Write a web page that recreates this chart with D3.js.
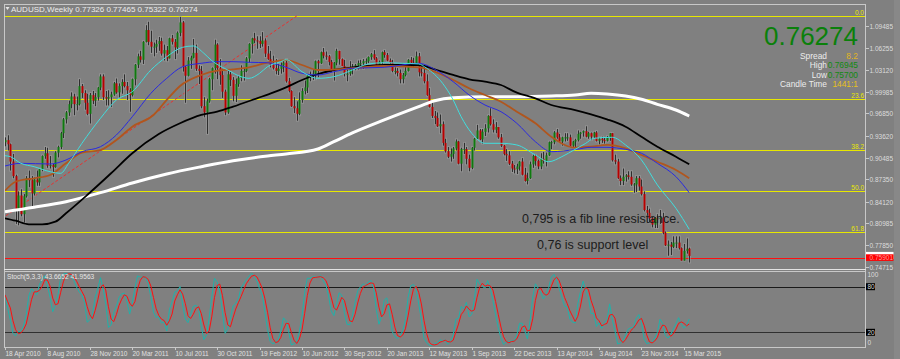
<!DOCTYPE html>
<html><head><meta charset="utf-8">
<script src="https://cdn.jsdelivr.net/npm/d3@7"></script>
<style>
html,body{margin:0;padding:0;background:#808080;overflow:hidden;}
svg{display:block;font-family:"Liberation Sans",Arial,sans-serif;}
</style></head><body>
<svg id="chart" width="900" height="359"></svg>
<script>
// ---------------- DATA ----------------
const symbolTitle = "AUDUSD,Weekly";
const headerValues = ["0.77326", "0.77465", "0.75322", "0.76274"];
const firstBarDate = "2010-04-18";

const closes = [
0.9300,0.9240,0.8990,0.8780,0.8300,0.8500,0.8230,0.8490,0.8750,0.8720,
0.8530,0.8730,0.8690,0.8880,0.9070,0.9110,0.8930,0.8940,0.8910,0.9120,
0.9200,0.9400,0.9600,0.9700,0.9820,0.9930,0.9820,0.9820,1.0080,0.9980,
0.9840,0.9680,0.9950,0.9870,0.9920,1.0060,1.0220,
0.9920,0.9900,0.9920,0.9960,1.0120,0.9990,1.0080,1.0140,1.0080,1.0020,
0.9950,1.0180,1.0390,1.0510,1.0460,1.0720,1.0890,1.0720,1.0650,1.0650,
1.0690,1.0730,1.0550,1.0600,1.0480,1.0770,1.0720,1.0640,1.0850,1.1000,
1.0360,1.0230,1.0450,1.0490,1.0560,1.0330,1.0300,0.9790,0.9700,0.9860,
1.0180,1.0340,1.0680,1.0340,1.0240,1.0000,0.9700,1.0250,1.0170,0.9940,
1.0110,1.0200,
1.0300,1.0300,1.0480,1.0690,1.0770,1.0740,1.0730,1.0690,1.0740,1.0550,
1.0470,1.0390,1.0340,1.0300,1.0330,1.0380,1.0420,1.0150,1.0010,0.9790,
0.9760,0.9680,0.9880,1.0010,1.0060,1.0230,1.0230,1.0260,1.0440,1.0410,
1.0570,1.0520,1.0510,1.0430,1.0320,1.0420,1.0590,1.0470,1.0370,1.0260,
1.0260,1.0350,1.0360,1.0380,1.0410,1.0410,1.0440,1.0440,1.0500,1.0540,
1.0480,1.0370,1.0430,
1.0570,1.0530,1.0450,1.0420,1.0300,1.0300,1.0270,1.0180,1.0240,1.0300,
1.0460,1.0420,1.0400,1.0510,1.0280,1.0270,1.0150,0.9950,0.9780,0.9650,
0.9620,0.9500,0.9530,0.9260,0.9140,0.9060,0.9100,0.9180,0.9280,0.8960,
0.9170,0.9170,0.9030,0.8900,0.9190,0.9320,0.9440,0.9310,0.9420,0.9470,
0.9650,0.9530,0.9450,0.9490,0.9340,0.9220,0.9100,0.9080,0.8960,0.8890,
0.8880,0.8920,
0.8990,0.8800,0.8710,0.8750,0.8950,0.9070,0.9000,0.8920,0.9030,0.9000,
0.9080,0.9270,0.9270,0.9410,0.9340,0.9280,0.9340,0.9340,0.9340,0.9220,
0.9280,0.9300,0.9390,0.9410,0.9430,0.9350,0.9400,0.9350,0.9410,0.9290,
0.9320,0.9300,0.9290,0.9340,0.9400,0.9010,0.8990,0.8750,0.8710,0.8770,
0.8790,0.8770,0.8660,0.8660,0.8750,0.8630,0.8520,0.8290,0.8250,0.8170,
0.8080,0.8170,
0.8160,0.8180,0.7960,0.7780,0.7790,0.7760,0.7820,0.7820,0.7740,0.7560,
0.7700,0.7730,0.76274];

const opens = [
0.9270,0.9300,0.9240,0.8990,0.8780,0.8300,0.8500,0.8230,0.8490,0.8750,
0.8720,0.8530,0.8730,0.8690,0.8880,0.9070,0.9110,0.8930,0.8940,0.8910,
0.9120,0.9200,0.9400,0.9600,0.9700,0.9820,0.9930,0.9820,0.9820,1.0080,
0.9980,0.9840,0.9680,0.9950,0.9870,0.9920,1.0060,
1.0220,0.9920,0.9900,0.9920,0.9960,1.0120,0.9990,1.0080,1.0140,1.0080,
1.0020,0.9950,1.0180,1.0390,1.0510,1.0460,1.0720,1.0890,1.0720,1.0650,
1.0650,1.0690,1.0730,1.0550,1.0600,1.0480,1.0770,1.0720,1.0640,1.0850,
1.1000,1.0360,1.0230,1.0450,1.0490,1.0560,1.0330,1.0300,0.9790,0.9700,
0.9860,1.0180,1.0340,1.0680,1.0340,1.0240,1.0000,0.9700,1.0250,1.0170,
0.9940,1.0110,
1.0200,1.0300,1.0300,1.0480,1.0690,1.0770,1.0740,1.0730,1.0690,1.0740,
1.0550,1.0470,1.0390,1.0340,1.0300,1.0330,1.0380,1.0420,1.0150,1.0010,
0.9790,0.9760,0.9680,0.9880,1.0010,1.0060,1.0230,1.0230,1.0260,1.0440,
1.0410,1.0570,1.0520,1.0510,1.0430,1.0320,1.0420,1.0590,1.0470,1.0370,
1.0260,1.0260,1.0350,1.0360,1.0380,1.0410,1.0410,1.0440,1.0440,1.0500,
1.0540,1.0480,1.0370,
1.0430,1.0570,1.0530,1.0450,1.0420,1.0300,1.0300,1.0270,1.0180,1.0240,
1.0300,1.0460,1.0420,1.0400,1.0510,1.0280,1.0270,1.0150,0.9950,0.9780,
0.9650,0.9620,0.9500,0.9530,0.9260,0.9140,0.9060,0.9100,0.9180,0.9280,
0.8960,0.9170,0.9170,0.9030,0.8900,0.9190,0.9320,0.9440,0.9310,0.9420,
0.9470,0.9650,0.9530,0.9450,0.9490,0.9340,0.9220,0.9100,0.9080,0.8960,
0.8890,0.8880,
0.8920,0.8990,0.8800,0.8710,0.8750,0.8950,0.9070,0.9000,0.8920,0.9030,
0.9000,0.9080,0.9270,0.9270,0.9410,0.9340,0.9280,0.9340,0.9340,0.9340,
0.9220,0.9280,0.9300,0.9390,0.9410,0.9430,0.9350,0.9400,0.9350,0.9410,
0.9290,0.9320,0.9300,0.9290,0.9340,0.9400,0.9010,0.8990,0.8750,0.8710,
0.8770,0.8790,0.8770,0.8660,0.8660,0.8750,0.8630,0.8520,0.8290,0.8250,
0.8170,0.8080,
0.8170,0.8160,0.8180,0.7960,0.7780,0.7790,0.7760,0.7820,0.7820,0.7740,
0.7560,0.7700,0.77326];

const highs = [
0.9340,0.9370,0.9250,0.9100,0.8800,0.8560,0.8590,0.8520,0.8780,0.8860,
0.8780,0.8760,0.8860,0.8890,0.9080,0.9200,0.9190,0.9070,0.8960,0.9140,
0.9220,0.9420,0.9620,0.9720,0.9870,0.9990,0.9970,0.9930,1.0180,1.0110,
1.0020,0.9970,0.9980,1.0010,0.9980,1.0070,1.0250,
1.0250,1.0010,1.0020,1.0000,1.0140,1.0190,1.0120,1.0180,1.0250,1.0140,
1.0050,1.0190,1.0400,1.0550,1.0590,1.0730,1.0960,1.1010,1.0880,1.0710,
1.0750,1.0790,1.0780,1.0680,1.0660,1.0780,1.0820,1.0760,1.0870,1.1080,
1.1020,1.0370,1.0500,1.0520,1.0760,1.0680,1.0380,1.0370,0.9920,0.9900,
1.0200,1.0350,1.0750,1.0700,1.0470,1.0330,1.0030,1.0310,1.0290,1.0210,
1.0190,1.0230,
1.0380,1.0340,1.0500,1.0700,1.0780,1.0850,1.0800,1.0800,1.0860,1.0770,
1.0660,1.0590,1.0520,1.0470,1.0400,1.0420,1.0440,1.0470,1.0200,1.0020,
0.9920,0.9860,0.9990,1.0050,1.0160,1.0240,1.0290,1.0310,1.0450,1.0460,
1.0580,1.0630,1.0580,1.0530,1.0460,1.0430,1.0620,1.0590,1.0480,1.0460,
1.0320,1.0440,1.0400,1.0400,1.0450,1.0460,1.0470,1.0480,1.0510,1.0560,
1.0600,1.0500,1.0450,
1.0580,1.0600,1.0560,1.0480,1.0460,1.0350,1.0340,1.0320,1.0270,1.0400,
1.0470,1.0500,1.0490,1.0580,1.0560,1.0380,1.0390,1.0250,1.0050,0.9870,
0.9720,0.9700,0.9670,0.9570,0.9320,0.9200,0.9180,0.9200,0.9310,0.9290,
0.9190,0.9260,0.9200,0.9090,0.9200,0.9330,0.9520,0.9460,0.9460,0.9530,
0.9660,0.9760,0.9600,0.9560,0.9490,0.9390,0.9230,0.9170,0.9140,0.9000,
0.8940,0.8960,
0.9000,0.9040,0.8900,0.8830,0.8990,0.9090,0.9090,0.9020,0.9110,0.9130,
0.9120,0.9280,0.9290,0.9430,0.9460,0.9390,0.9350,0.9400,0.9400,0.9380,
0.9290,0.9320,0.9440,0.9420,0.9440,0.9500,0.9420,0.9410,0.9420,0.9430,
0.9340,0.9350,0.9330,0.9360,0.9400,0.9400,0.9090,0.9030,0.8790,0.8890,
0.8810,0.8850,0.8850,0.8680,0.8780,0.8780,0.8730,0.8560,0.8350,0.8310,
0.8190,0.8190,
0.8230,0.8290,0.8250,0.7980,0.7850,0.7830,0.7910,0.7910,0.7910,0.7750,
0.7800,0.7880,0.77465];

const lows = [
0.9210,0.9150,0.8860,0.8750,0.8090,0.8070,0.8200,0.8110,0.8470,0.8620,
0.8330,0.8500,0.8640,0.8640,0.8850,0.9030,0.8900,0.8890,0.8770,0.8900,
0.9050,0.9170,0.9330,0.9540,0.9650,0.9760,0.9660,0.9730,0.9800,0.9910,
0.9740,0.9660,0.9540,0.9820,0.9790,0.9870,1.0020,
0.9880,0.9800,0.9800,0.9780,0.9940,0.9970,0.9910,0.9970,1.0060,0.9880,
0.9710,0.9930,1.0090,1.0340,1.0420,1.0400,1.0710,1.0670,1.0560,1.0510,
1.0560,1.0590,1.0520,1.0450,1.0440,1.0480,1.0680,1.0470,1.0550,1.0800,
1.0290,0.9840,1.0220,1.0330,1.0480,1.0300,1.0110,0.9760,0.9630,0.9390,
0.9840,1.0020,1.0260,1.0180,1.0100,0.9910,0.9660,0.9680,1.0080,0.9860,
0.9850,1.0070,
1.0150,1.0160,1.0280,1.0420,1.0550,1.0700,1.0620,1.0630,1.0650,1.0500,
1.0460,1.0350,1.0320,1.0250,1.0240,1.0260,1.0280,1.0130,0.9990,0.9780,
0.9690,0.9580,0.9660,0.9840,0.9960,0.9980,1.0150,1.0170,1.0180,1.0210,
1.0400,1.0480,1.0460,1.0380,1.0280,1.0160,1.0380,1.0390,1.0370,1.0220,
1.0150,1.0230,1.0250,1.0310,1.0320,1.0360,1.0330,1.0380,1.0410,1.0460,
1.0460,1.0360,1.0360,
1.0400,1.0490,1.0440,1.0380,1.0280,1.0250,1.0220,1.0120,1.0120,1.0220,
1.0290,1.0410,1.0360,1.0400,1.0220,1.0220,1.0120,0.9940,0.9770,0.9620,
0.9530,0.9490,0.9400,0.9220,0.9120,0.9040,0.8990,0.9030,0.9150,0.8950,
0.8850,0.9100,0.8950,0.8850,0.8880,0.9150,0.9300,0.9300,0.9250,0.9360,
0.9410,0.9510,0.9410,0.9400,0.9320,0.9200,0.9080,0.9000,0.8940,0.8840,
0.8820,0.8810,
0.8860,0.8790,0.8700,0.8660,0.8740,0.8900,0.8930,0.8880,0.8880,0.8960,
0.8920,0.9070,0.9170,0.9240,0.9320,0.9270,0.9220,0.9280,0.9290,0.9210,
0.9200,0.9200,0.9280,0.9320,0.9350,0.9340,0.9320,0.9300,0.9330,0.9280,
0.9240,0.9260,0.9250,0.9280,0.9290,0.8990,0.8950,0.8740,0.8650,0.8650,
0.8700,0.8730,0.8640,0.8540,0.8550,0.8570,0.8500,0.8270,0.8220,0.8110,
0.8040,0.8030,
0.8030,0.8090,0.7940,0.7770,0.7630,0.7640,0.7740,0.7740,0.7720,0.7560,
0.7560,0.7660,0.75322];

// moving averages: [bar index, price]
const maWhite = [[0,0.8266],[11,0.8330],[23,0.8411],[36,0.8541],[48,0.8681],[61,0.8811],[74,0.8916],[86,0.9003],[99,0.9071],[106,0.9100],[118,0.9172],[124,0.9277],[131,0.9403],[143,0.9591],[156,0.9783],[162,0.9869],[169,0.9913],[181,0.9927],[193,0.9927],[206,0.9937],[215,0.9952],[221,0.9976],[227,0.9966],[234,0.9937],[240,0.9890],[246,0.9817],[253,0.9735],[258,0.9648]];
const maBlack = [[0,0.8171],[4,0.8136],[9,0.8084],[14,0.8084],[19,0.8122],[23,0.8243],[31,0.8507],[40,0.8821],[48,0.9110],[58,0.9388],[66,0.9543],[74,0.9663],[80,0.9711],[86,0.9783],[95,0.9904],[101,0.9985],[106,1.0063],[112,1.0169],[118,1.0255],[124,1.0313],[131,1.0352],[137,1.0371],[143,1.0385],[150,1.0385],[156,1.0385],[162,1.0323],[169,1.0241],[175,1.0179],[181,1.0144],[187,1.0096],[193,0.9985],[200,0.9904],[206,0.9807],[215,0.9735],[221,0.9673],[227,0.9601],[234,0.9494],[240,0.9349],[246,0.9205],[253,0.9061],[258,0.8951]];
const maBrown = [[0,0.8569],[4,0.8699],[11,0.8749],[17,0.8796],[23,0.8965],[29,0.9118],[36,0.9157],[42,0.9302],[48,0.9494],[56,0.9663],[61,0.9880],[66,1.0082],[74,1.0241],[80,1.0303],[86,1.0323],[92,1.0352],[99,1.0418],[106,1.0457],[112,1.0385],[118,1.0313],[131,1.0338],[143,1.0371],[156,1.0352],[162,1.0288],[169,1.0169],[175,1.0049],[181,0.9952],[187,0.9855],[193,0.9711],[200,0.9543],[206,0.9349],[215,0.9193],[221,0.9205],[227,0.9230],[234,0.9182],[240,0.9085],[246,0.8988],[253,0.8868],[258,0.8749]];
const maBlue = [[0,0.8926],[6,0.8965],[17,0.8955],[23,0.9013],[29,0.9133],[36,0.9205],[42,0.9374],[48,0.9638],[55,0.9976],[61,1.0193],[67,1.0361],[74,1.0410],[80,1.0433],[86,1.0433],[92,1.0424],[99,1.0418],[106,1.0352],[112,1.0265],[118,1.0241],[124,1.0288],[131,1.0338],[143,1.0352],[156,1.0410],[162,1.0323],[169,1.0144],[175,0.9952],[181,0.9807],[187,0.9711],[193,0.9543],[200,0.9277],[206,0.9133],[215,0.9164],[221,0.9196],[227,0.9196],[234,0.9167],[240,0.9110],[246,0.8965],[253,0.8772],[258,0.8541]];
const maCyan = [[0,0.9075],[2,0.9061],[6,0.8965],[11,0.8916],[17,0.8844],[21,0.8821],[24,0.8965],[29,0.9254],[36,0.9615],[42,0.9880],[48,1.0000],[55,1.0313],[61,1.0505],[67,1.0641],[71,1.0660],[75,1.0554],[78,1.0447],[84,1.0313],[89,1.0216],[92,1.0193],[96,1.0265],[99,1.0361],[104,1.0433],[106,1.0462],[112,1.0288],[118,1.0193],[124,1.0216],[131,1.0313],[137,1.0400],[143,1.0418],[150,1.0410],[156,1.0400],[159,1.0338],[165,1.0121],[169,0.9880],[172,0.9638],[176,0.9399],[181,0.9254],[187,0.9254],[193,0.9230],[200,0.9085],[205,0.8988],[210,0.9061],[215,0.9167],[219,0.9254],[222,0.9326],[229,0.9341],[234,0.9230],[240,0.9013],[246,0.8652],[253,0.8315],[258,0.8012]];

const priceTicks = [1.09485,1.06255,1.03120,0.99985,0.96850,0.93620,0.90485,0.87350,0.84120,0.80985,0.77850,0.74715];
const timeTicks = ["18 Apr 2010","8 Aug 2010","28 Nov 2010","20 Mar 2011","10 Jul 2011","30 Oct 2011","19 Feb 2012","10 Jun 2012","30 Sep 2012","20 Jan 2013","12 May 2013","1 Sep 2013","22 Dec 2013","13 Apr 2014","3 Aug 2014","23 Nov 2014","15 Mar 2015"];

const fibHigh = 1.1093, fibLow = 0.6040, fibHighBar = 110, fibLowBar = -82;
const fibLevels = [0.0, 23.6, 38.2, 50.0, 61.8];
const supportLevel = 0.75901;
const bidPrice = 0.76274;

const stochParams = [5, 3, 3];
const stochLabel = "Stoch(5,3,3) 43.6652 41.9563";
const stochLevels = [80, 20];
const stochAxisLabels = [100, 80, 20, 0];

const infoPrice = "0.76274";
const infoLabels = ["Spread", "High", "Low", "Candle Time"];
const infoValues = ["8.2", "0.76945", "0.75700", "1441:1"];
const notes = ["0,795 is a fib line resistance.", "0,76 is support level"];

// ---------------- LAYOUT ----------------
const svg = d3.select("#chart");
const P = {l: 4, r: 866, t: 4, b: 269};
const S = {t: 271, b: 347};
const nBars = closes.length;
const x = d3.scaleLinear().domain([0, nBars - 1]).range([5, 5 + (nBars - 1) * 2.652]);
const y = d3.scaleLinear().domain([priceTicks[priceTicks.length - 1], priceTicks[0]]).range([266.7, 26]);
const ys = d3.scaleLinear().domain([0, 100]).range([347.5, 271.5]);

svg.append("rect").attr("width", 900).attr("height", 359).attr("fill", "#808080");
svg.append("rect").attr("x", 894).attr("y", 0).attr("width", 6).attr("height", 359).attr("fill", "#888888");

const defs = svg.append("defs");
defs.append("clipPath").attr("id", "cp").append("rect").attr("x", P.l + 1).attr("y", P.t + 1).attr("width", P.r - P.l - 1).attr("height", P.b - P.t - 1);
defs.append("clipPath").attr("id", "cs").append("rect").attr("x", P.l + 1).attr("y", S.t + 1).attr("width", P.r - P.l - 1).attr("height", S.b - S.t - 1);

const main = svg.append("g").attr("clip-path", "url(#cp)");

// fib levels
const fibPrice = lv => fibHigh - (fibHigh - fibLow) * lv / 100;
main.selectAll(".fib").data(fibLevels).join("line")
  .attr("x1", P.l).attr("x2", P.r)
  .attr("y1", d => Math.round(y(fibPrice(d))) + 0.5).attr("y2", d => Math.round(y(fibPrice(d))) + 0.5)
  .attr("stroke", "#e8e800").attr("stroke-width", 1);
// support line
main.append("line").attr("x1", P.l).attr("x2", P.r)
  .attr("y1", Math.round(y(supportLevel)) + 0.5).attr("y2", Math.round(y(supportLevel)) + 0.5)
  .attr("stroke", "#ff1010").attr("stroke-width", 1);
// fib trend line (dashed)
main.append("line")
  .attr("x1", x(fibLowBar)).attr("y1", y(fibLow)).attr("x2", x(fibHighBar)).attr("y2", y(fibHigh))
  .attr("stroke", "#e83030").attr("stroke-width", 1).attr("stroke-dasharray", "3,2");

// candles
const bars = d3.range(nBars);
main.selectAll(".halo").data(bars).join("line")
  .attr("x1", i => Math.round(x(i)) + 0.5).attr("x2", i => Math.round(x(i)) + 0.5)
  .attr("y1", i => y(highs[i]) - 1).attr("y2", i => y(lows[i]) + 1)
  .attr("stroke", "#a4a4a4").attr("stroke-opacity", 0.45).attr("stroke-width", 3);
main.selectAll(".wick").data(bars).join("line")
  .attr("x1", i => Math.round(x(i)) + 0.5).attr("x2", i => Math.round(x(i)) + 0.5)
  .attr("y1", i => y(highs[i])).attr("y2", i => y(lows[i]))
  .attr("stroke", "#2e2e2e").attr("stroke-width", 1);
main.selectAll(".body").data(bars).join("rect")
  .attr("x", i => Math.round(x(i)) - 0.5).attr("width", 2)
  .attr("y", i => y(Math.max(opens[i], closes[i])))
  .attr("height", i => Math.max(1, Math.abs(y(opens[i]) - y(closes[i]))))
  .attr("fill", i => closes[i] >= opens[i] ? "#0f7a0f" : "#b80000");

// moving averages
const maLine = d3.line().x(d => x(d[0])).y(d => y(d[1])).curve(d3.curveMonotoneX);
[[maWhite, "#ffffff", 3], [maBlack, "#000000", 1.8], [maBrown, "#b0561e", 1.8], [maBlue, "#2a2ae0", 1], [maCyan, "#40dede", 1]]
  .forEach(([data, col, w]) => {
    main.append("path").datum(data).attr("d", maLine).attr("fill", "none").attr("stroke", col).attr("stroke-width", w);
  });

// notes
main.append("text").attr("x", 522).attr("y", 223).text(notes[0]).attr("font-size", 12.5).attr("fill", "#1c1c1c");
main.append("text").attr("x", 537).attr("y", 249).text(notes[1]).attr("font-size", 12.5).attr("fill", "#1c1c1c");

// fib labels
svg.selectAll(".fibl").data(fibLevels).join("text")
  .attr("x", 864).attr("y", d => Math.round(y(fibPrice(d))) - 1.5)
  .attr("text-anchor", "end").attr("font-size", 6.5).attr("fill", "#e8e800")
  .text(d => d.toFixed(1));

// header
svg.append("path").attr("d", "M5.5,7 L9.5,7 L7.5,10 Z").attr("fill", "#e8e8e8");
svg.append("text").attr("x", 11).attr("y", 11.5).attr("font-size", 8).attr("fill", "#ececec")
  .text(symbolTitle + "  " + headerValues.join(" "));

// info panel
svg.append("text").attr("x", 858).attr("y", 45).attr("text-anchor", "end").attr("font-size", 26)
  .attr("textLength", 94).attr("lengthAdjust", "spacingAndGlyphs").attr("fill", "#0a800a").text(infoPrice);
const infoValCol = ["#e0b420", "#128a12", "#128a12", "#e8c020"];
infoLabels.forEach((lab, k) => {
  const by = 58.5 + k * 9.6;
  svg.append("text").attr("x", 827).attr("y", by).attr("text-anchor", "end").attr("font-size", 8.4).attr("fill", "#ececec").text(lab);
  svg.append("text").attr("x", 858).attr("y", by).attr("text-anchor", "end").attr("font-size", 8.4).attr("fill", infoValCol[k]).text(infoValues[k]);
});

// ---------------- STOCHASTIC ----------------
const [kP, dP, sP] = stochParams;
const stMain = bars.map(i => {
  let num = 0, den = 0;
  for (let j = Math.max(0, i - sP + 1); j <= i; j++) {
    const s = Math.max(0, j - kP + 1);
    const hh = d3.max(highs.slice(s, j + 1)), ll = d3.min(lows.slice(s, j + 1));
    num += closes[j] - ll; den += hh - ll;
  }
  return den > 0 ? 100 * num / den : 50;
});
const stSig = bars.map(i => d3.mean(stMain.slice(Math.max(0, i - dP + 1), i + 1)));

const sg = svg.append("g").attr("clip-path", "url(#cs)");
stochLevels.forEach(v => {
  sg.append("line").attr("x1", P.l).attr("x2", P.r).attr("y1", Math.round(ys(v)) + 0.5).attr("y2", Math.round(ys(v)) + 0.5)
    .attr("stroke", v === 80 ? "#1a1a1a" : "#303030").attr("stroke-width", 1);
});
const sLine = d3.line().x((d, i) => x(i)).y(d => ys(d));
sg.append("path").datum(stMain).attr("d", sLine).attr("fill", "none").attr("stroke", "#20b2aa").attr("stroke-width", 1);
sg.append("path").datum(stSig).attr("d", sLine).attr("fill", "none").attr("stroke", "#ff1010").attr("stroke-width", 1);
svg.append("text").attr("x", 7).attr("y", 278.5).attr("font-size", 6.6).attr("fill", "#e6e6e6").text(stochLabel);

// ---------------- FRAMES & AXES ----------------
const fr = svg.append("g").attr("fill", "none").attr("stroke", "#c8c8c8").attr("stroke-width", 1);
fr.append("line").attr("x1", P.l + 0.5).attr("x2", P.l + 0.5).attr("y1", P.t).attr("y2", S.b);
fr.append("line").attr("x1", P.l).attr("x2", P.r).attr("y1", P.t + 0.5).attr("y2", P.t + 0.5);
fr.append("line").attr("x1", P.r - 0.5).attr("x2", P.r - 0.5).attr("y1", P.t).attr("y2", S.b + 1);
fr.append("line").attr("x1", P.l).attr("x2", P.r).attr("y1", P.b + 0.5).attr("y2", P.b + 0.5).attr("stroke", "#e4e4e4");
fr.append("line").attr("x1", P.l).attr("x2", P.r).attr("y1", S.t + 0.5).attr("y2", S.t + 0.5);
fr.append("line").attr("x1", P.l).attr("x2", P.r).attr("y1", S.b + 0.5).attr("y2", S.b + 0.5);

// price axis
const pa = svg.append("g");
priceTicks.forEach(p => {
  const yy = Math.round(y(p)) + 0.5;
  pa.append("line").attr("x1", P.r).attr("x2", P.r + 3).attr("y1", yy).attr("y2", yy).attr("stroke", "#c8c8c8");
  pa.append("text").attr("x", 869.5).attr("y", yy + 2.4).attr("font-size", 6.5).attr("fill", "#dcdcdc").text(p.toFixed(5));
});
// bid label (partially covered) and support label
pa.append("rect").attr("x", 866).attr("y", y(bidPrice) - 4).attr("width", 27.5).attr("height", 7).attr("fill", "#ffffff");
pa.append("rect").attr("x", 866).attr("y", y(supportLevel) - 4.2).attr("width", 27.5).attr("height", 6.6).attr("fill", "#ff0000");
pa.append("text").attr("x", 869.5).attr("y", y(supportLevel) + 1.8).attr("font-size", 6.5).attr("fill", "#ff9a9a").text(supportLevel.toFixed(5));

// stoch axis
stochAxisLabels.forEach(v => {
  let yy = ys(v);
  if (v === 100) yy = 275; if (v === 0) yy = 342.7;
  if (v === 80 || v === 20) {
    pa.append("rect").attr("x", 866).attr("y", yy - 3.5).attr("width", 9).attr("height", 7).attr("fill", "#000000");
  }
  pa.append("text").attr("x", 867.5).attr("y", yy + 2.3).attr("font-size", 6.5).attr("fill", "#dcdcdc").text(v);
});

// time axis
const parseT = d3.utcParse("%d %b %Y");
const t0 = d3.utcParse("%Y-%m-%d")(firstBarDate);
timeTicks.forEach(lbl => {
  const idx = Math.round((parseT(lbl) - t0) / 604800000);
  const xx = Math.round(x(idx)) + 0.5;
  pa.append("line").attr("x1", xx).attr("x2", xx).attr("y1", S.b).attr("y2", S.b + 3).attr("stroke", "#c8c8c8");
  pa.append("text").attr("x", xx).attr("y", 356).attr("font-size", 6.5).attr("fill", "#e0e0e0").text(lbl);
});
</script>
</body></html>
